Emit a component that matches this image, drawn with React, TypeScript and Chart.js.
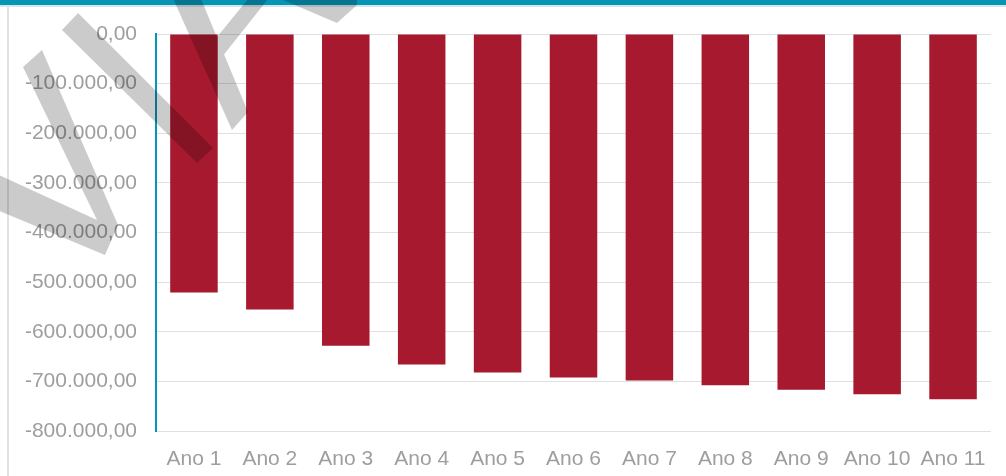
import { useEffect, useRef } from "react";
import { Chart, registerables } from "chart.js";

Chart.register(...registerables);

const W = 1006;
const H = 476;

// Saldo anual (R$)
const categories = [
  "Ano 1", "Ano 2", "Ano 3", "Ano 4", "Ano 5", "Ano 6",
  "Ano 7", "Ano 8", "Ano 9", "Ano 10", "Ano 11",
];
const saldo = [
  -521000, -555000, -628000, -666000, -682000, -692000,
  -698000, -708000, -717000, -726000, -736000,
];
const yMin = -800000;
const yMax = 0;
const yStep = 100000;

const TEAL = "#0795b7";
const BAR = "#a6192e";
const TEXT = "#9e9e9e";
const GRID = "#e0e0e0";

// Partial diagonal strokes of the logo mark laid over the panel
const markShapes: [number, number][][] = [
  [[-10, 171], [97, 220], [23, 67], [42, 50], [118, 225], [105, 255], [-10, 207]],
  [[62, 30], [78, 13], [213, 148], [197, 163]],
  [[171, -6], [199, -6], [248, 112], [232, 130]],
  [[213, 42], [252, -6], [272, -6], [222, 57]],
  [[269, -6], [337, 23], [357, 5], [357, -6]],
];

function formatBR(v: number): string {
  const neg = v < 0;
  const [intPart, dec] = Math.abs(v).toFixed(2).split(".");
  const grouped = intPart.replace(/\B(?=(\d{3})+(?!\d))/g, ".");
  return (neg ? "-" : "") + grouped + "," + dec;
}

const framePlugin = {
  id: "frame",
  beforeDraw(chart: Chart) {
    const ctx = chart.ctx;
    ctx.save();
    ctx.fillStyle = "#ffffff";
    ctx.fillRect(0, 0, W, H);
    ctx.fillStyle = TEAL;
    ctx.fillRect(0, 0, W, 5);
    ctx.fillStyle = "#d6e6eb";
    ctx.fillRect(0, 5, W, 2);
    ctx.fillStyle = "#e2e2e2";
    ctx.fillRect(7, 7, 2, H - 7);
    ctx.restore();
  },
};

const markPlugin = {
  id: "mark",
  afterDraw(chart: Chart) {
    const off = document.createElement("canvas");
    off.width = W;
    off.height = H;
    const octx = off.getContext("2d");
    if (!octx) return;
    octx.fillStyle = "#000000";
    for (const poly of markShapes) {
      octx.beginPath();
      poly.forEach(([x, y], i) => (i === 0 ? octx.moveTo(x, y) : octx.lineTo(x, y)));
      octx.closePath();
      octx.fill();
    }
    const ctx = chart.ctx;
    ctx.save();
    ctx.globalAlpha = 0.2;
    ctx.drawImage(off, 0, 0);
    ctx.restore();
  },
};

export default function App() {
  const ref = useRef<HTMLCanvasElement | null>(null);

  useEffect(() => {
    if (!ref.current) return;
    const font = { family: "'Liberation Sans', Arial, sans-serif", size: 21 };
    const chart = new Chart(ref.current, {
      type: "bar",
      data: {
        labels: categories,
        datasets: [
          {
            data: saldo,
            backgroundColor: BAR,
            borderWidth: 0,
            barPercentage: 1,
            categoryPercentage: 0.626,
          },
        ],
      },
      options: {
        responsive: false,
        animation: false,
        events: [],
        layout: { padding: { top: 34, right: 15, left: 0, bottom: 0 } },
        plugins: {
          legend: { display: false },
          title: { display: false },
          tooltip: { enabled: false },
        },
        scales: {
          x: {
            grid: { display: false, drawTicks: false },
            border: { display: false },
            ticks: { color: TEXT, font, padding: 16, maxRotation: 0, autoSkip: false },
            afterFit(scale: any) {
              scale.height = 45;
            },
          },
          y: {
            min: yMin,
            max: yMax,
            grid: { color: GRID, lineWidth: 1, drawTicks: false },
            border: { display: true, color: TEAL, width: 2 },
            ticks: {
              stepSize: yStep,
              color: TEXT,
              font,
              padding: 19,
              callback: (v: any) => formatBR(Number(v)),
            },
            afterFit(scale: any) {
              scale.width = 156;
            },
          },
        },
      },
      plugins: [framePlugin, markPlugin],
    });
    return () => chart.destroy();
  }, []);

  return (
    <div style={{ position: "fixed", left: 0, top: 0, width: W, height: H, background: "#fff" }}>
      <canvas ref={ref} width={W} height={H} style={{ display: "block", width: W, height: H }} />
    </div>
  );
}
